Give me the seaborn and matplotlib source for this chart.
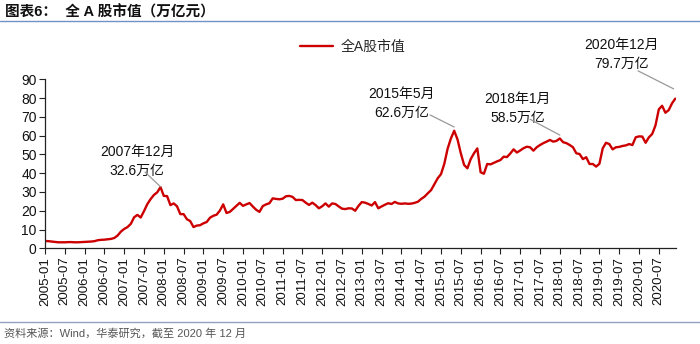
import matplotlib
matplotlib.use('Agg')
import matplotlib.pyplot as plt
from matplotlib.lines import Line2D
import numpy as np
import pandas as pd
import seaborn as sns

# ---------------- data ----------------
months = pd.date_range('2005-01-01', '2020-12-01', freq='MS').strftime('%Y-%m').tolist()

market_cap = [
    # 2005
    3.9, 3.8, 3.6, 3.4, 3.2, 3.2, 3.2, 3.3, 3.3, 3.2, 3.2, 3.3,
    # 2006
    3.4, 3.5, 3.6, 3.8, 4.3, 4.5, 4.6, 4.8, 5.0, 5.5, 6.8, 8.9,
    # 2007
    10.3, 11.3, 13.0, 16.5, 17.8, 16.4, 19.8, 23.5, 26.2, 28.4, 29.8, 32.6,
    # 2008
    27.9, 27.8, 23.0, 23.9, 22.4, 18.2, 18.2, 15.5, 14.5, 11.3, 12.1, 12.3,
    # 2009
    13.3, 14.0, 16.3, 17.3, 17.9, 20.1, 23.4, 18.8, 19.4, 21.0, 22.6, 24.2,
    # 2010
    22.6, 23.4, 24.1, 22.2, 20.5, 19.4, 22.5, 23.4, 24.0, 26.6, 26.3, 26.1,
    # 2011
    26.4, 27.7, 27.9, 27.4, 25.7, 25.8, 25.7, 24.3, 23.1, 24.3, 23.0, 21.3,
    # 2012
    22.4, 23.9, 22.2, 23.9, 23.6, 22.3, 21.1, 20.9, 21.3, 21.2, 20.0, 22.6,
    # 2013
    24.6, 24.3, 23.6, 22.8, 24.6, 21.3, 22.3, 23.2, 24.0, 23.6, 24.7, 23.9,
    # 2014
    23.7, 23.9, 23.7, 23.8, 24.2, 24.8, 26.3, 27.5, 29.3, 31.0, 34.2, 37.3,
    # 2015
    39.5, 45.0, 53.0, 58.5, 62.6, 58.0, 50.6, 44.4, 42.6, 47.5, 50.6, 53.2,
    # 2016
    40.5, 39.7, 44.9, 44.7, 45.5, 46.3, 47.0, 48.8, 48.6, 50.5, 52.7, 51.0,
    # 2017
    52.1, 53.3, 54.1, 53.8, 52.0, 53.8, 55.0, 56.0, 56.8, 57.7, 56.8, 57.2,
    # 2018
    58.5, 56.5, 56.0, 55.0, 53.8, 50.6, 50.2, 47.5, 48.5, 44.9, 44.9, 43.5,
    # 2019
    45.0, 53.2, 56.2, 55.5, 52.7, 53.8, 54.0, 54.5, 54.8, 55.5, 55.0, 59.1,
    # 2020
    59.6, 59.5, 56.2, 59.1, 60.9, 65.5, 74.0, 75.9, 72.2, 73.6, 77.2, 79.7,
]

tick_labels = months[::6]
y_ticks = list(range(0, 100, 10))

series_name = '全A股市值'
annot_months = ['2007-12', '2015-05', '2018-01', '2020-12']
annot_labels = ['2007年12月\n32.6万亿', '2015年5月\n62.6万亿', '2018年1月\n58.5万亿', '2020年12月\n79.7万亿']

df = pd.DataFrame({'idx': np.arange(len(months)), 'month': months, 'value': market_cap})

# ---------------- style ----------------
sns.set_style('ticks')
plt.rcParams['font.family'] = ['Liberation Sans', 'Noto Sans CJK SC', 'DejaVu Sans']

W, H = 700, 344
fig = plt.figure(figsize=(W / 100, H / 100), dpi=100)

def fx(px):
    return px / W

def fy(py):
    return 1 - py / H

ax_left, ax_right, ax_bottom, ax_top = 45, 676.3, 248.3, 79.3
ax = fig.add_axes([fx(ax_left), fy(ax_bottom), (ax_right - ax_left) / W, (ax_bottom - ax_top) / H])

red = '#CC0000'
sns.lineplot(data=df, x='idx', y='value', ax=ax, color=red, linewidth=1.7, label=series_name, legend=False)

ax.set_xlim(0, len(months) - 1 + 0.3)
ax.set_ylim(0, 90)
ax.set_yticks(y_ticks)
ax.set_yticklabels([str(t) for t in y_ticks], fontsize=10)
tick_pos = df['idx'].values[::6]
ax.set_xticks(tick_pos)
ax.set_xticklabels(tick_labels, rotation=90, fontsize=9.5)
ax.set_xlabel('')
ax.set_ylabel('')
for s in ['top', 'right']:
    ax.spines[s].set_visible(False)
for s in ['left', 'bottom']:
    ax.spines[s].set_color('#222222')
    ax.spines[s].set_linewidth(0.9)
ax.tick_params(axis='both', direction='out', length=4, width=0.8, color='#222222', pad=2, labelcolor='#111111')
ax.grid(False)

# legend
handles = [Line2D([0], [0], color=red, linewidth=1.7)]
fig.legend(handles, [series_name], loc='center left', bbox_to_anchor=(fx(300), fy(47)),
           frameon=False, fontsize=10, handlelength=2.4, handletextpad=0.5, borderpad=0, borderaxespad=0)

# annotations (text positions in data units, leader line from text to the point)
annot_text_pos = [(27.9, 46.5), (108.1, 77.0), (143.3, 74.5), (174.8, 103.0)]
annot_line_start = [(30.3, 40.6), (116.7, 71.0), (147.0, 68.7), (179.7, 94.5)]
annot_line_end_offset = [0.2, 2.0, 1.8, 5.2]
for m, lab, tp, ls, off in zip(annot_months, annot_labels, annot_text_pos, annot_line_start, annot_line_end_offset):
    row = df[df['month'] == m].iloc[0]
    ax.text(tp[0], tp[1], lab, ha='center', va='center', fontsize=10, linespacing=1.45,
            color='#111111', clip_on=False)
    ax.annotate('', xy=(row['idx'] - (0.5 if m == '2020-12' else 0), row['value'] + off), xytext=ls,
                arrowprops=dict(arrowstyle='-', color='#999999', lw=0.9, shrinkA=0, shrinkB=0),
                annotation_clip=False)

# title, rules and source
fig.text(fx(5), fy(12), '图表6：  全 A 股市值（万亿元）', fontsize=10.5, fontweight='bold',
         ha='left', va='center', color='#111111')
fig.add_artist(Line2D([0, 1], [fy(20.5), fy(20.5)], color='#6F93C8', linewidth=1.0))
fig.add_artist(Line2D([0, 1], [fy(322), fy(322)], color='#8FA3BF', linewidth=1.0))
fig.text(fx(4), fy(333), '资料来源：Wind，华泰研究，截至 2020 年 12 月', fontsize=8, ha='left', va='center',
         color='#555555')

fig.savefig('out.png', dpi=100)
